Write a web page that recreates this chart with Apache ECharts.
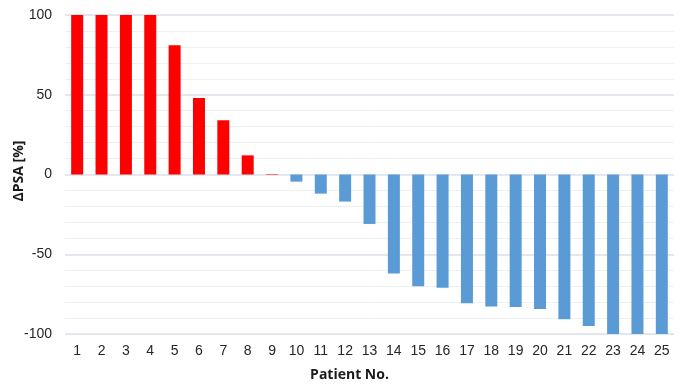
<!DOCTYPE html>
<html><head><meta charset="utf-8">
<script src="https://cdn.jsdelivr.net/npm/echarts@6/dist/echarts.min.js"></script>
<style>html,body{margin:0;padding:0;background:#fff}#c{width:685px;height:391px}</style>
</head><body><div id="c"></div>
<script>
const patients = ['1','2','3','4','5','6','7','8','9','10','11','12','13','14','15','16','17','18','19','20','21','22','23','24','25'];
const deltaPSA = [100,100,100,100,81,48,34,12,0.3,-4.5,-12,-17,-31,-62,-70,-71,-80.7,-82.8,-83,-84.4,-90.7,-95,-100,-100,-100];
const yTicks = [-100,-50,0,50,100];
const posColor = '#ff0000', negColor = '#5b9bd5';
const FONT = 'Liberation Sans, Arial, sans-serif';
const TFONT = 'Open Sans, sans-serif';

const chart = echarts.init(document.getElementById('c'));
chart.setOption({
  animation:false,
  grid:{left:65,right:11,top:15,bottom:57,containLabel:false,outerBoundsMode:'none'},
  xAxis:{type:'category',data:patients,
    axisLine:{show:false},axisTick:{show:false},
    axisLabel:{color:'#262626',fontSize:14,fontFamily:FONT,margin:10},
    name:'Patient No.',nameLocation:'middle',nameGap:34,nameMoveOverlap:false,
    nameTextStyle:{fontWeight:'bold',fontSize:14,color:'#1a1a1a',fontFamily:TFONT,padding:[0,40,0,0]}},
  yAxis:[{type:'value',min:-100,max:100,interval:10,
    axisLine:{show:false},axisTick:{show:false},
    axisLabel:{show:false},
    splitLine:{lineStyle:{color:'#edf0f5',width:1}}},
   {type:'value',min:yTicks[0],max:yTicks[yTicks.length-1],interval:50,position:'left',
    axisLine:{show:false},axisTick:{show:false},
    axisLabel:{color:'#262626',fontSize:14,fontFamily:FONT,margin:13},
    splitLine:{lineStyle:{color:'#dde2ea',width:1.5}},
    name:'ΔPSA [%]',nameLocation:'middle',nameGap:39,nameMoveOverlap:false,
    nameTextStyle:{fontWeight:'bold',fontSize:14,color:'#1a1a1a',fontFamily:TFONT,padding:[0,0,0,7]}}],
  series:[{type:'bar',barWidth:12,yAxisIndex:0,
    data:deltaPSA.map(v=>({value:v,itemStyle:{color:v>=0?posColor:negColor}}))}]
});
</script></body></html>
